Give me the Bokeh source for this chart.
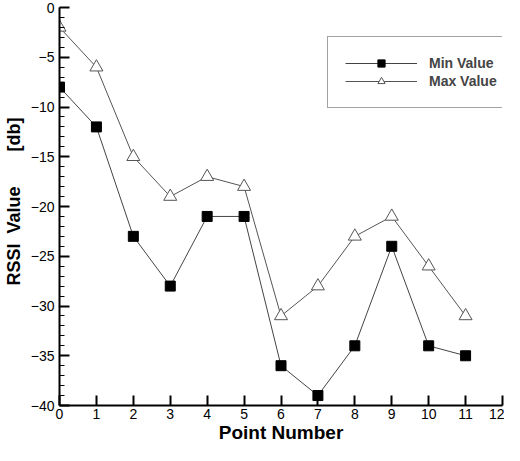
from bokeh.plotting import figure
from bokeh.models import Range1d, SingleIntervalTicker, Legend, LegendItem
from bokeh.embed import file_html
from bokeh.resources import INLINE

points = list(range(12))
min_value = [-8, -12, -23, -28, -21, -21, -36, -39, -34, -24, -34, -35]
max_value = [-2, -6, -15, -19, -17, -18, -31, -28, -23, -21, -26, -31]
x_label = "Point Number"
y_label = "RSSI\u00a0\u00a0Value\u00a0\u00a0\u00a0\u00a0\u00a0\u00a0\u00a0[db]"

FONT = "Liberation Sans"
NB = "\u00a0"

p = figure(width=504, height=445, output_backend="svg", toolbar_location=None,
           x_range=Range1d(0, 12), y_range=Range1d(-40, 0),
           min_border_left=52, min_border_right=2, min_border_top=7, min_border_bottom=37)
p.outline_line_color = None
p.grid.visible = False
p.background_fill_color = "white"
p.border_fill_color = "white"

l1 = p.line(points, min_value, line_color="#444444", line_width=1)
s1 = p.scatter(points, min_value, marker="square", size=10, fill_color="black", line_color="black")
l2 = p.line(points, max_value, line_color="#555555", line_width=1)
s2 = p.scatter(points, max_value, marker="triangle", size=13, fill_color="white", line_color="#555555")

for ax in (p.xaxis[0], p.yaxis[0]):
    ax.axis_line_width = 2
    ax.axis_line_color = "black"
    ax.major_tick_in = 10
    ax.major_tick_out = 0
    ax.major_tick_line_width = 2
    ax.minor_tick_in = 5
    ax.minor_tick_out = 0
    ax.minor_tick_line_width = 1
    ax.major_label_text_font = FONT
    ax.major_label_text_font_size = "14px"
    ax.major_label_text_color = "black"
    ax.axis_label_text_font = FONT
    ax.axis_label_text_font_style = "bold"
    ax.axis_label_text_color = "black"

p.xaxis[0].axis_label_text_font_size = "19px"
p.yaxis[0].axis_label_text_font_size = "18px"
p.xaxis[0].ticker = SingleIntervalTicker(interval=1, num_minor_ticks=0)
p.yaxis[0].ticker = SingleIntervalTicker(interval=5, num_minor_ticks=5)
p.xaxis[0].axis_label = x_label
p.yaxis[0].axis_label = NB * 2 + y_label
p.xaxis[0].major_label_standoff = 3
p.yaxis[0].major_label_standoff = 5
p.xaxis[0].axis_label_standoff = 0
p.yaxis[0].axis_label_standoff = 4

legend = Legend(items=[LegendItem(label="Min Value", renderers=[l1, s1]),
                       LegendItem(label="Max Value", renderers=[l2, s2])],
                location=(268, 297))
legend.label_text_font = FONT
legend.label_text_font_style = "bold"
legend.label_text_font_size = "14px"
legend.glyph_width = 72
legend.glyph_height = 18
legend.label_height = 18
legend.label_standoff = 12
legend.spacing = 0
legend.padding = 17
legend.label_width = 60
legend.border_line_color = "#444444"
legend.border_line_width = 1
legend.background_fill_alpha = 1
p.add_layout(legend)

open("out.html", "w").write(file_html(p, INLINE))
